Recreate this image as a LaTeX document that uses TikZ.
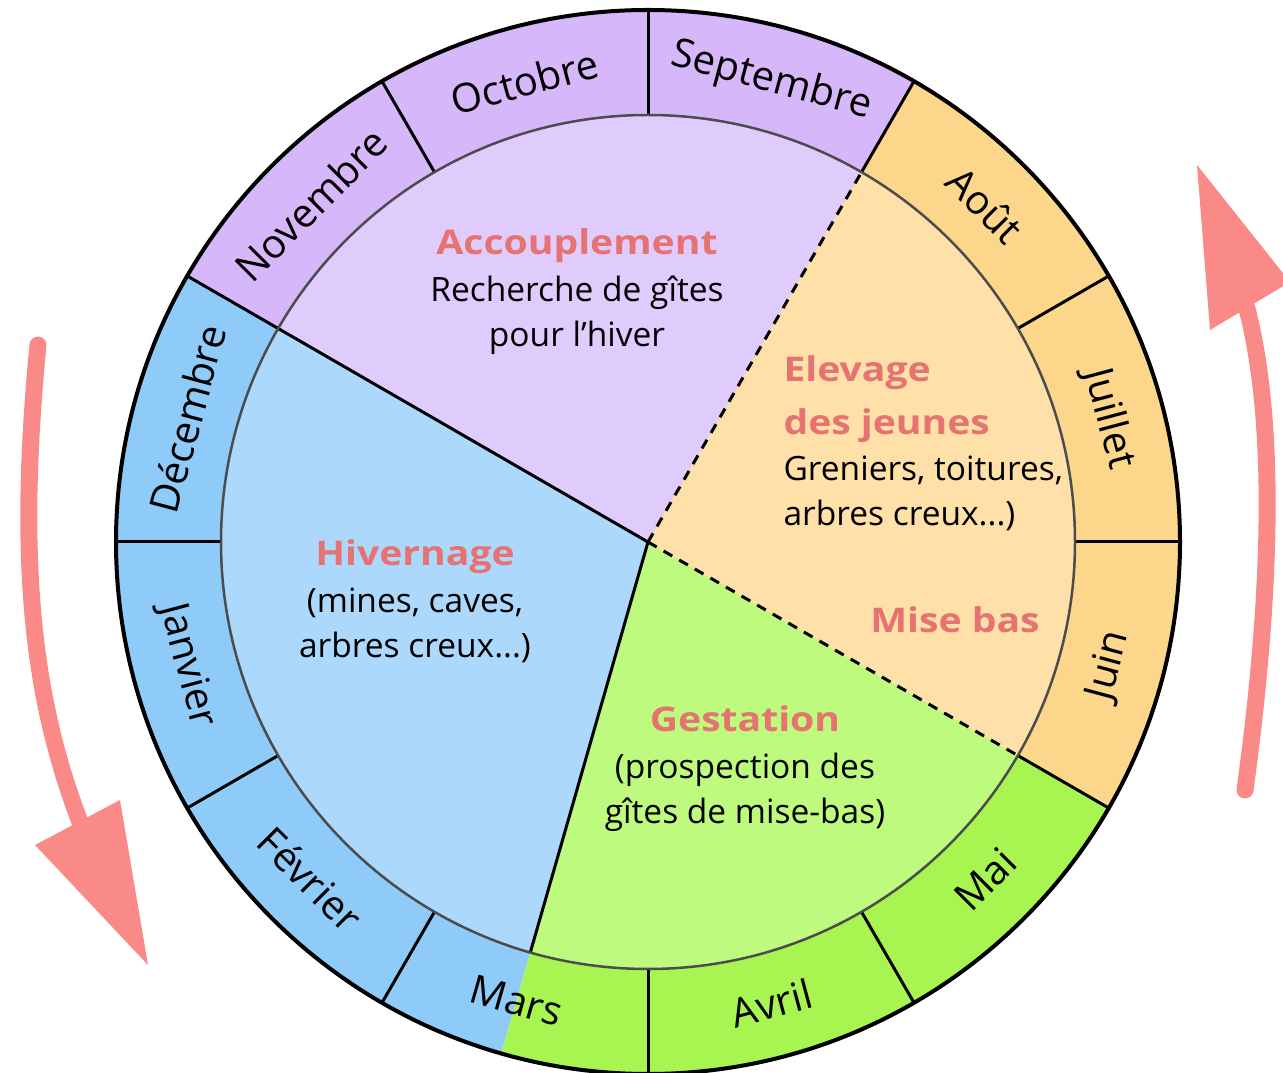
\documentclass[tikz,border=0pt]{standalone}
\usepackage{fontspec}
\setmainfont{Open Sans}
\newfontfamily\grasfont[FakeStretch=1.15]{Open Sans}
\usetikzlibrary{calc}

\definecolor{ringlilas}{RGB}{214,184,250}
\definecolor{lilas}{RGB}{224,204,252}
\definecolor{ringbleu}{RGB}{143,203,248}
\definecolor{bleu}{RGB}{172,216,251}
\definecolor{ringvert}{RGB}{168,245,82}
\definecolor{vert}{RGB}{190,250,125}
\definecolor{ringorange}{RGB}{252,214,138}
\definecolor{peche}{RGB}{254,224,168}
\definecolor{titre}{RGB}{230,114,114}
\definecolor{fleche}{RGB}{249,138,136}

\newcommand{\entete}[1]{\textcolor{titre}{\grasfont\bfseries\fontsize{34}{45}\selectfont #1}}

\begin{document}
\begin{tikzpicture}[x=1pt,y=1pt,
    mois/.style={font=\fontsize{40}{40}\selectfont},
    phase/.style={align=center,font=\fontsize{33.5}{45}\selectfont},
    cloison/.style={line width=3pt},
    limite/.style={line width=3pt,dash pattern=on 10pt off 8pt},
    trait/.style={fleche,line width=17pt,line cap=round}]
    \useasboundingbox (0,0) rectangle (1283,1072);
    \coordinate (C) at (648,530);

    % secteurs : couronne des mois puis disque des phases
    \foreach \deb/\fin/\coul/\fond in {60/150/ringlilas/lilas, 150/254/ringbleu/bleu,
        254/330/ringvert/vert, -30/60/ringorange/peche}{
      \fill[\coul] (C) -- ++(\deb:532) arc[start angle=\deb,end angle=\fin,radius=532] -- cycle;
      \fill[\fond] (C) -- ++(\deb:427) arc[start angle=\deb,end angle=\fin,radius=427] -- cycle;
    }

    \foreach \a in {0,30,...,330}
      \draw[cloison] (C) ++(\a:427) -- ++(\a:105);

    \draw[cloison] (C) -- ++(150:427);
    \draw[cloison] (C) -- ++(254:427);
    \draw[limite] (C) -- ++(60:427);
    \draw[limite] (C) -- ++(-30:427);

    \draw[line width=2.5pt,black!70] (C) circle[radius=427];
    \draw[line width=4pt] (C) circle[radius=532];

    \foreach \a/\r/\m in {75/-15/Septembre, 105/15/Octobre, 135/45/Novembre,
        165/75/Décembre, 195/-75/Janvier, 225/-45/Février, 254/-16/Mars,
        285/15/Avril, 315/45/Mai, 345/75/Juin, 15/-75/Juillet, 45/-45/Août}
      \node[mois,rotate=\r] (mois\a) at ($(C)+(\a:477)$) {\m};

    \node[phase] (accouplement) at (577,780) {\entete{Accouplement}\\[2pt]Recherche de gîtes\\pour l'hiver};
    \node[phase] (hivernage) at (415,471) {\entete{Hivernage}\\[2pt](mines, caves,\\arbres creux...)};
    \node[phase] (gestation) at (745,303) {\entete{Gestation}\\[2pt](prospection des\\gîtes de mise-bas)};
    \node[phase,align=left,anchor=west] (elevage) at (780,629) {\entete{Elevage}\\[8pt]\entete{des jeunes}\\[1pt]Greniers, toitures,\\arbres creux...)};
    \node[phase] (misebas) at (955,452) {\entete{Mise bas}};

    % fleches du cycle
    \draw[trait] (38,727) .. controls (18,520) and (30,380) .. (80,250);
    \fill[fleche] (35,227) -- (148,107) -- (120,272) -- cycle;
    \draw[trait] (1245,282) .. controls (1268,450) and (1280,640) .. (1246,767);
    \fill[fleche] (1210,742) -- (1197,907) -- (1290,790) -- cycle;
\end{tikzpicture}
\end{document}
